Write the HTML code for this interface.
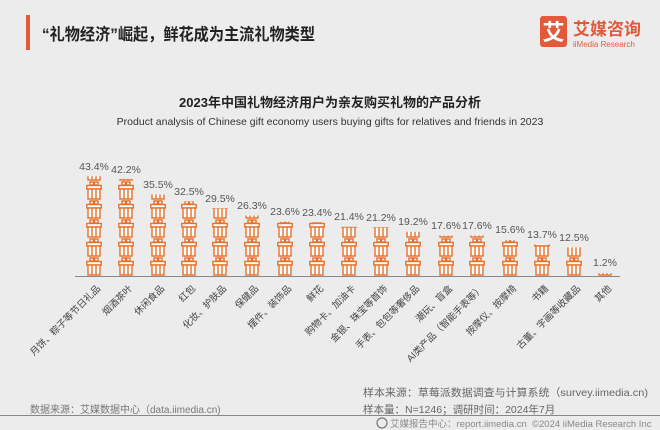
<!DOCTYPE html>
<html><head><meta charset="utf-8"><style>
body{margin:0;background:#ececec;}
svg{display:block;font-family:"Liberation Sans","Noto Sans CJK SC",sans-serif;}
</style></head><body>
<svg width="660" height="430" viewBox="0 0 660 430" xmlns="http://www.w3.org/2000/svg">
<defs>
<pattern id="g" patternUnits="userSpaceOnUse" x="-8" y="10" width="40" height="19">
<g fill="#fff" stroke="#e8702a" stroke-width="1.4">
<rect x="4" y="1" width="3.5" height="3"/><rect x="8.5" y="1" width="3.5" height="3"/>
<rect x="0.8" y="4.5" width="14.4" height="3.5"/>
<rect x="2" y="8" width="12" height="10"/>
<line x1="6" y1="8" x2="6" y2="18"/><line x1="10" y1="8" x2="10" y2="18"/>
</g>
</pattern>
</defs>
<rect width="660" height="430" fill="#ececec"/>
<rect x="26" y="15" width="4" height="35" fill="#e25a3a"/>
<text x="42" y="40" font-size="16.5" font-weight="bold" fill="#222" textLength="273" lengthAdjust="spacingAndGlyphs">“礼物经济”崛起，鲜花成为主流礼物类型</text>
<rect x="540" y="16" width="27" height="31" rx="3" fill="#e25a3a"/>
<text x="553.5" y="40" font-size="22" font-weight="bold" fill="#fff" text-anchor="middle">艾</text>
<text x="573" y="35" font-size="17" font-weight="bold" fill="#e25a3a">艾媒咨询</text>
<text x="573" y="47" font-size="8" fill="#e25a3a">iiMedia Research</text>
<text x="330" y="107" font-size="13" font-weight="bold" fill="#222" text-anchor="middle">2023年中国礼物经济用户为亲友购买礼物的产品分析</text>
<text x="330" y="125" font-size="10.5" fill="#333" text-anchor="middle">Product analysis of Chinese gift economy users buying gifts for relatives and friends in 2023</text>
<line x1="75" y1="276.5" x2="620" y2="276.5" stroke="#888" stroke-width="1"/>
<g fill="url(#g)">
<rect transform="translate(94,0)" x="-8" y="176.2" width="16" height="99.8"/>
<rect transform="translate(126,0)" x="-8" y="178.9" width="16" height="97.1"/>
<rect transform="translate(158,0)" x="-8" y="194.4" width="16" height="81.6"/>
<rect transform="translate(189,0)" x="-8" y="201.3" width="16" height="74.7"/>
<rect transform="translate(220,0)" x="-8" y="208.2" width="16" height="67.8"/>
<rect transform="translate(252,0)" x="-8" y="215.5" width="16" height="60.5"/>
<rect transform="translate(285,0)" x="-8" y="221.7" width="16" height="54.3"/>
<rect transform="translate(317,0)" x="-8" y="222.2" width="16" height="53.8"/>
<rect transform="translate(349,0)" x="-8" y="226.8" width="16" height="49.2"/>
<rect transform="translate(381,0)" x="-8" y="227.2" width="16" height="48.8"/>
<rect transform="translate(413,0)" x="-8" y="231.8" width="16" height="44.2"/>
<rect transform="translate(446,0)" x="-8" y="235.5" width="16" height="40.5"/>
<rect transform="translate(477,0)" x="-8" y="235.5" width="16" height="40.5"/>
<rect transform="translate(510,0)" x="-8" y="240.1" width="16" height="35.9"/>
<rect transform="translate(542,0)" x="-8" y="244.5" width="16" height="31.5"/>
<rect transform="translate(574,0)" x="-8" y="247.3" width="16" height="28.7"/>
<rect transform="translate(605,0)" x="-8" y="273.2" width="16" height="2.8"/>
</g>
<g font-size="10.5" fill="#555" text-anchor="middle">
<text x="94" y="170">43.4%</text><text x="126" y="173">42.2%</text><text x="158" y="188">35.5%</text>
<text x="189" y="195">32.5%</text><text x="220" y="202">29.5%</text><text x="252" y="209">26.3%</text>
<text x="285" y="215">23.6%</text><text x="317" y="216">23.4%</text><text x="349" y="220">21.4%</text>
<text x="381" y="221">21.2%</text><text x="413" y="225">19.2%</text><text x="446" y="229">17.6%</text>
<text x="477" y="229">17.6%</text><text x="510" y="233">15.6%</text><text x="542" y="238">13.7%</text>
<text x="574" y="241">12.5%</text><text x="605" y="266">1.2%</text>
</g>
<g font-size="9.5" fill="#444" text-anchor="end">
<text transform="translate(101,289) rotate(-45)">月饼、粽子等节日礼品</text>
<text transform="translate(133,289) rotate(-45)">烟酒茶叶</text>
<text transform="translate(165,289) rotate(-45)">休闲食品</text>
<text transform="translate(196,289) rotate(-45)">红包</text>
<text transform="translate(227,289) rotate(-45)">化妆、护肤品</text>
<text transform="translate(259,289) rotate(-45)">保健品</text>
<text transform="translate(292,289) rotate(-45)">摆件、装饰品</text>
<text transform="translate(324,289) rotate(-45)">鲜花</text>
<text transform="translate(356,289) rotate(-45)">购物卡、加油卡</text>
<text transform="translate(388,289) rotate(-45)">金银、珠宝等首饰</text>
<text transform="translate(420,289) rotate(-45)">手表、包包等奢侈品</text>
<text transform="translate(453,289) rotate(-45)">潮玩、盲盒</text>
<text transform="translate(484,289) rotate(-45)">AI类产品（智能手表等）</text>
<text transform="translate(517,289) rotate(-45)">按摩仪、按摩椅</text>
<text transform="translate(549,289) rotate(-45)">书籍</text>
<text transform="translate(581,289) rotate(-45)">古董、字画等收藏品</text>
<text transform="translate(612,289) rotate(-45)">其他</text>
</g>
<text x="363" y="396" font-size="10.5" fill="#666" textLength="285" lengthAdjust="spacingAndGlyphs">样本来源：草莓派数据调查与计算系统（survey.iimedia.cn)</text>
<text x="363" y="413" font-size="10.5" fill="#666">样本量：N=1246；调研时间：2024年7月</text>
<text x="30" y="413" font-size="10" fill="#777">数据来源：艾媒数据中心（data.iimedia.cn)</text>
<line x1="0" y1="415.5" x2="660" y2="415.5" stroke="#888" stroke-width="1"/>
<circle cx="382" cy="423" r="5" fill="none" stroke="#777" stroke-width="1.2"/>
<text x="390" y="427" font-size="9.5" fill="#888">艾媒报告中心：report.iimedia.cn</text>
<text x="532" y="427" font-size="9.5" fill="#888">©2024  iiMedia Research Inc</text>
</svg>
</body></html>
